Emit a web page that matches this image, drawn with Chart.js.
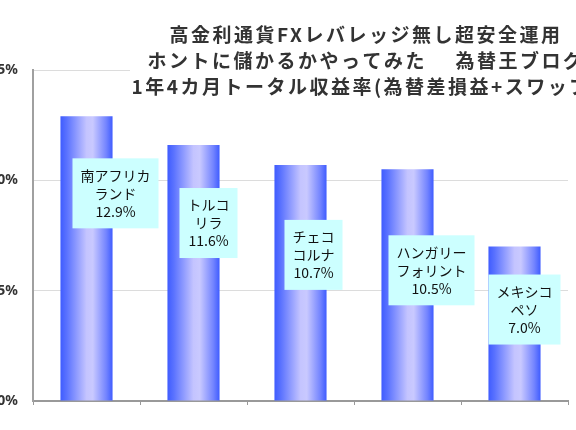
<!DOCTYPE html>
<html>
<head>
<meta charset="utf-8">
<script src="https://cdn.jsdelivr.net/npm/chart.js@4"></script>
<style>
  html, body { margin: 0; padding: 0; background: #fff; overflow: hidden; }
  body { width: 576px; height: 430px; position: relative; }
  #wrap { position: absolute; left: -30px; top: 0; width: 790px; height: 430px; }
</style>
</head>
<body>
<div id="wrap"><canvas id="chart" width="790" height="430"></canvas></div>
<script>
// Chart data
const categories = [
    ['南アフリカ', 'ランド'],
    ['トルコ', 'リラ'],
    ['チェコ', 'コルナ'],
    ['ハンガリー', 'フォリント'],
    ['メキシコ', 'ペソ']
];
const returns = [12.9, 11.6, 10.7, 10.5, 7.0]; // total return, %
const yTicks = [0, 5, 10, 15];
const titleLines = [
    '高金利通貨FXレバレッジ無し超安全運用',
    'ホントに儲かるかやってみた　 為替王ブログ',
    '1年4カ月トータル収益率(為替差損益+スワップ)'
];

// Label box placement (moved by hand in the original)
const labelShiftX = [29, 15, 13, 24, 10];
const labelDropY = [42, 43, 55, 66, 28];

const barPct = 0.487;
const canvasLeft = -30; // page offset of the canvas

// Horizontal blue gradient for each bar
function barGradient(context) {
    const chart = context.chart;
    const xs = chart.scales.x;
    if (!xs || context.type !== 'data') return '#4a63ff';
    const cx = xs.getPixelForValue(context.dataIndex);
    const w = (xs.width / categories.length) * barPct;
    if (!isFinite(cx) || !isFinite(w) || w <= 0) return '#4a63ff';
    const g = chart.ctx.createLinearGradient(cx - w / 2, 0, cx + w / 2, 0);
    g.addColorStop(0, '#3f5cff');
    g.addColorStop(0.12, '#5a72ff');
    g.addColorStop(0.5, '#c4c4ff');
    g.addColorStop(0.62, '#c9c9ff');
    g.addColorStop(0.88, '#7384ff');
    g.addColorStop(1, '#3f5cff');
    return g;
}

// Title drawn over the plot area on a white box
const overlayTitle = {
    id: 'overlayTitle',
    afterDraw(chart) {
        const ctx = chart.ctx;
        const cx = 366 - canvasLeft;
        ctx.save();
        ctx.fillStyle = '#fff';
        ctx.fillRect(130 - canvasLeft, 18, 470, 82);
        ctx.font = 'bold 19px "Noto Sans CJK JP"';
        ctx.letterSpacing = '2.5px';
        ctx.fillStyle = '#333';
        ctx.textAlign = 'center';
        ctx.textBaseline = 'middle';
        titleLines.forEach((line, i) => ctx.fillText(line, cx, 35 + i * 26));
        ctx.restore();
    }
};

// Cyan value boxes on the bars
const valueBoxes = {
    id: 'valueBoxes',
    afterDatasetsDraw(chart) {
        const ctx = chart.ctx;
        const meta = chart.getDatasetMeta(0);
        ctx.save();
        ctx.font = '14px "Noto Sans CJK JP"';
        ctx.textAlign = 'center';
        ctx.textBaseline = 'middle';
        meta.data.forEach((bar, i) => {
            const lines = categories[i].concat([returns[i].toFixed(1) + '%']);
            const tw = Math.max(...lines.map(l => ctx.measureText(l).width));
            const bw = tw + 16;
            const bh = lines.length * 18 + 16;
            const cx = bar.x + labelShiftX[i];
            const top = bar.y + labelDropY[i];
            ctx.fillStyle = '#ccffff';
            ctx.fillRect(cx - bw / 2, top, bw, bh);
            ctx.fillStyle = '#111';
            lines.forEach((l, j) => ctx.fillText(l, cx, top + 8 + 9 + j * 18));
        });
        ctx.restore();
    }
};

new Chart(document.getElementById('chart'), {
    type: 'bar',
    data: {
        labels: categories,
        datasets: [{
            data: returns,
            backgroundColor: barGradient,
            borderWidth: 0,
            categoryPercentage: 1,
            barPercentage: barPct
        }]
    },
    options: {
        responsive: false,
        animation: false,
        events: [],
        layout: { padding: { top: 70, right: 192 } },
        plugins: {
            legend: { display: false },
            title: { display: false },
            tooltip: { enabled: false }
        },
        scales: {
            x: {
                ticks: { display: false },
                grid: { drawOnChartArea: false, color: '#999', tickLength: 4 },
                border: { color: '#999', width: 2 },
                afterFit(scale) { scale.height = 29; }
            },
            y: {
                min: 0,
                max: 15,
                afterBuildTicks(scale) { scale.ticks = yTicks.map(v => ({ value: v })); },
                ticks: {
                    padding: 15,
                    color: '#333',
                    font: { family: 'Noto Sans', size: 14, weight: 'bold' },
                    callback: v => v + '%'
                },
                grid: { color: '#dcdcdc', drawTicks: false },
                border: { color: '#a0a0a0', width: 2 },
                afterFit(scale) { scale.width = 33 - canvasLeft; }
            }
        }
    },
    plugins: [valueBoxes, overlayTitle]
});
</script>
</body>
</html>
